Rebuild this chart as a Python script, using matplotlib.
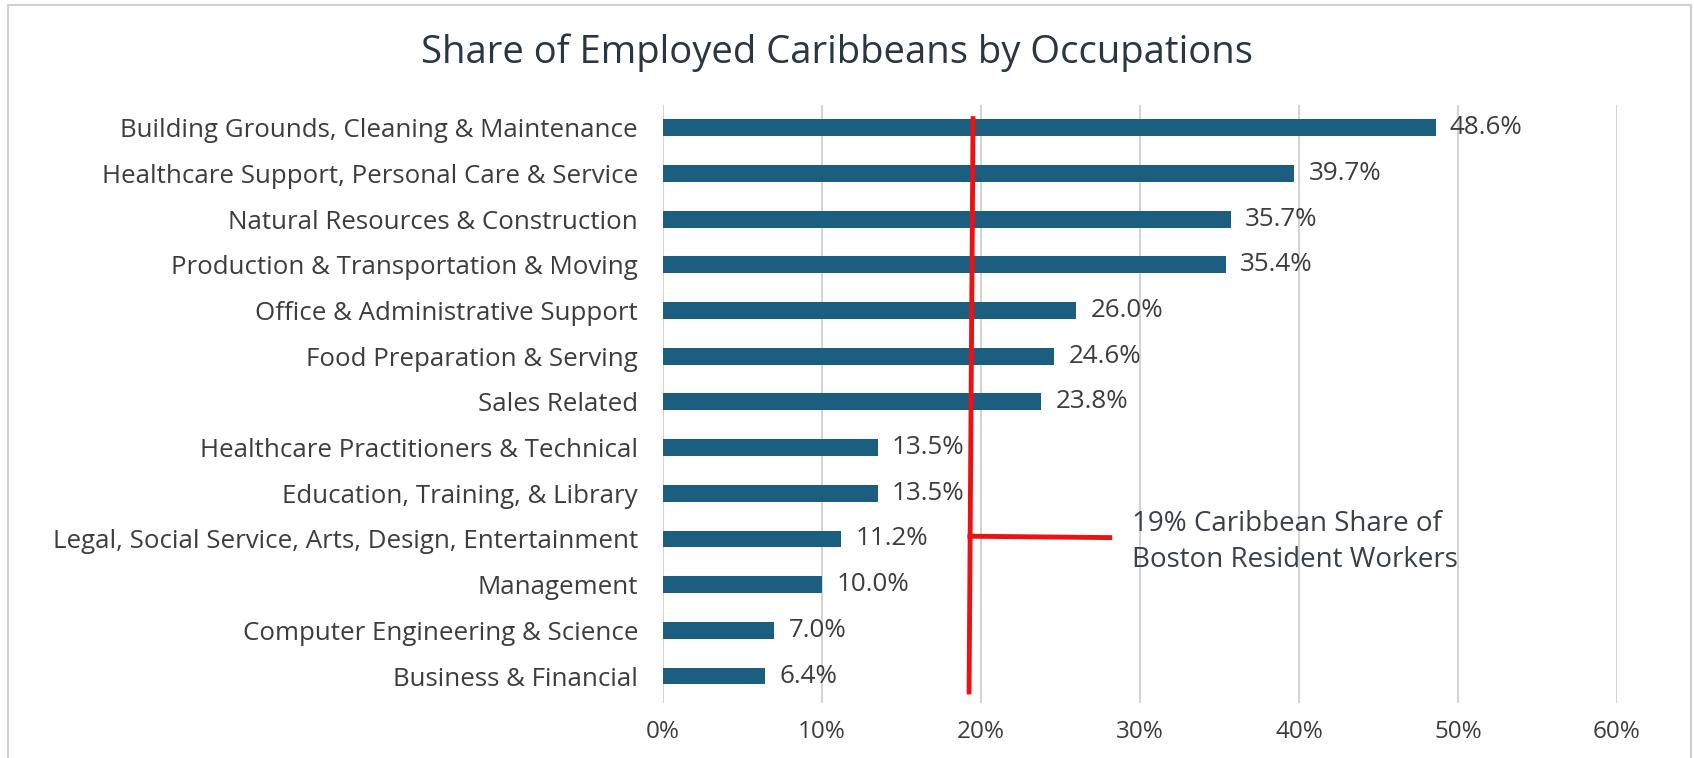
import matplotlib
matplotlib.use("Agg")
import matplotlib.pyplot as plt
from matplotlib.patches import Rectangle

plt.rcParams['font.family'] = ['Open Sans', 'DejaVu Sans']

occupations = [
    "Building Grounds, Cleaning & Maintenance",
    "Healthcare Support, Personal Care & Service",
    "Natural Resources & Construction",
    "Production & Transportation & Moving",
    "Office & Administrative Support",
    "Food Preparation & Serving",
    "Sales Related",
    "Healthcare Practitioners & Technical",
    "Education, Training, & Library",
    "Legal, Social Service, Arts, Design, Entertainment",
    "Management",
    "Computer Engineering & Science",
    "Business & Financial",
]
shares = [48.6, 39.7, 35.7, 35.4, 26.0, 24.6, 23.8, 13.5, 13.5, 11.2, 10.0, 7.0, 6.4]
xticks = [0, 10, 20, 30, 40, 50, 60]
boston_share = 19
note = "19% Caribbean Share of\nBoston Resident Workers"

bar_color = "#1b5e80"
text_color = "#3d3d3d"

fig = plt.figure(figsize=(16.94, 7.58), dpi=100)
ax = fig.add_axes([0.3914, 0.072, 0.5631, 0.7895])

ypos = list(range(len(occupations)))
ax.barh(ypos, shares, height=0.37, color=bar_color, zorder=3)
for y, v in zip(ypos, shares):
    ax.text(v + 0.9, y, "%.1f%%" % v, va="center", ha="left",
            fontsize=18.7, color=text_color, zorder=4)

ax.set_xlim(0, 60)
ax.set_ylim(12.6, -0.5)
ax.set_xticks(xticks)
ax.set_xticklabels(["%d%%" % t for t in xticks], fontsize=17.5, color=text_color)
ax.set_yticks(ypos)
ax.set_yticklabels(occupations, fontsize=18.6, color=text_color)
ax.tick_params(axis="both", length=0)
ax.tick_params(axis="x", pad=12)
ax.tick_params(axis="y", pad=18)
ax.grid(axis="x", color="#d4d4d4", linewidth=1.5, zorder=0)
for s in ax.spines.values():
    s.set_visible(False)

# hand drawn red marker for the overall Caribbean share
ax.plot([boston_share + 0.5, boston_share + 0.25], [-0.2, 12.35],
        color="#ee1111", linewidth=3.5, zorder=5, clip_on=False)
ax.plot([boston_share + 0.3, 28.1], [8.94, 8.97],
        color="#ee1111", linewidth=3.5, zorder=5)
ax.text(29.5, 9.07, note, fontsize=20, color="#3a4048", va="center",
        ha="left", linespacing=1.35, zorder=5)

fig.text(0.494, 0.931, "Share of Employed Caribbeans by Occupations",
         ha="center", va="center", fontsize=27.5, color="#2b3643")

fig.patches.append(Rectangle((0.005, -0.01), 0.993, 1.003, transform=fig.transFigure,
                             fill=False, edgecolor="#d0d0d0", linewidth=1.5))

fig.savefig("out.png", dpi=100)
